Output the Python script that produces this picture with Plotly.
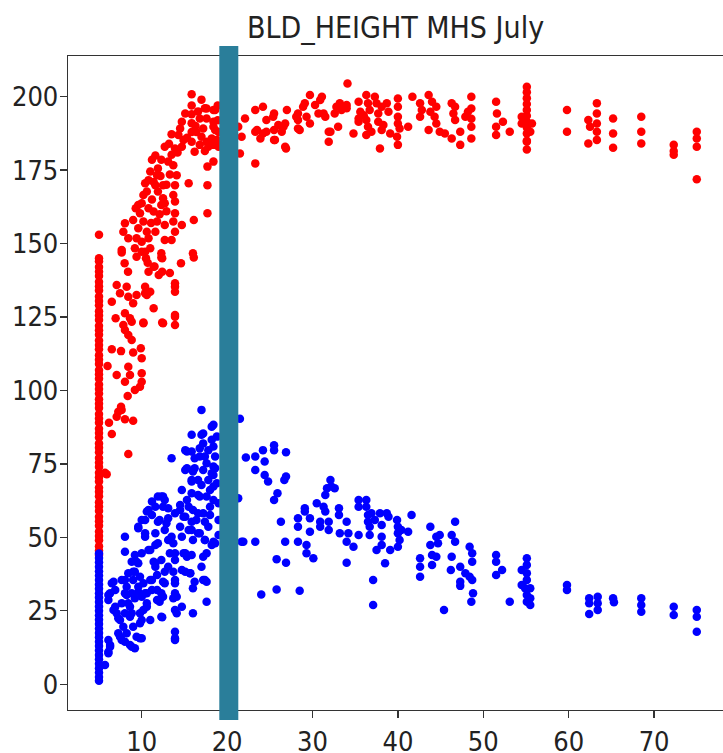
import plotly.graph_objects as go

TITLE = "BLD_HEIGHT MHS July"
x_ticks = [10, 20, 30, 40, 50, 60, 70]
y_ticks = [0, 25, 50, 75, 100, 125, 150, 175, 200]
threshold_x = 20.2

# dense column of red points at x = 5
red_col_x = 5
red_col_y = [153, 145, 144, 142, 140.5, 139, 137, 135.5, 134, 132, 130.5, 129, 127, 125.5, 124, 122, 120.5,
             119, 117, 115.5, 114, 112, 110.5, 109, 107, 105.5, 104, 102, 100.5, 99, 97, 95.5, 94, 92, 90.5,
             89, 87, 85.5, 84, 82, 80.5, 79, 77, 75.5, 74, 72, 70.5, 69, 67, 65.5, 64, 62, 60.5, 59, 57,
             55.5, 54, 52, 50.5, 49, 47, 45.5, 44]

# dense column of blue points at x = 5
blue_col_x = 5
blue_col_y = [44.5, 43, 41.5, 40, 38.5, 37, 35.5, 34, 32.5, 31, 29.5, 28, 26.5, 25, 23.5, 22, 20.5, 19,
              17.5, 16, 14.5, 13, 11.5, 10, 8.5, 7, 5.5, 4, 2.5, 1.2]

red_points = [
    (5.7, 72.0), (5.9, 71.5),
    (7.66, 147), (9.4, 145.5), (10.7, 143.5), (12.3, 145.3), (14.6, 143.3), (16.1, 145.3), (8.0, 143.3),
    (8.4, 140.4), (10.8, 140.4), (11.5, 142.2), (12.0, 139.3), (12.4, 140.4), (13.9, 136.5), (13.9, 133.6),
    (7.07, 135.9), (8.24, 135.3), (6.5, 130.2), (7.46, 133.1), (8.43, 131.9), (9.4, 132.5), (10.4, 135.3),
    (10.6, 132.5), (11.0, 133.6), (9.0, 129.7), (11.4, 128.0), (6.95, 124.6), (8.04, 126.3), (8.63, 124.6),
    (8.83, 123.4), (7.85, 122.3), (8.04, 120.6), (8.43, 118.9), (8.83, 117.2), (10.2, 122.9), (12.4, 123.1),
    (13.9, 125.7), (13.9, 122.3), (6.5, 114.0), (7.58, 113.4), (9.0, 112.9), (9.9, 114.4), (10.0, 111.0),
    (6.0, 108.3), (7.07, 105.3), (8.43, 108.1), (8.63, 105.3), (8.04, 103.0), (10.0, 105.9), (10.0, 103.0),
    (9.2, 100.2), (9.8, 101.3), (8.36, 98.1), (7.58, 94.5), (7.26, 92.8), (7.07, 91.1), (8.04, 90.2),
    (9.0, 89.7), (6.17, 89.0), (6.5, 85.2), (8.43, 78.4), (7.65, 93.4),
    (15.85, 200.8), (15.85, 197), (15.85, 194), (15.85, 191), (15.85, 188), (15.85, 184.7), (15.1, 194.3),
    (14.7, 191.5), (14.5, 189.2), (14.3, 187.0), (14.9, 185.3), (14.7, 183.0), (17.4, 196.1), (17.6, 192.6),
    (16.8, 192.6), (17.2, 189.2), (17.0, 186.4), (17.6, 184.7), (16.8, 183.6), (18.2, 185.8), (18.4, 195.5),
    (18.4, 191.5), (18.6, 188.7), (18.4, 183.6), (16.2, 181.3), (13.5, 187.2), (12.7, 183.0), (13.9, 182.4),
    (13.5, 180.2), (13.1, 177.9), (12.3, 178.5), (11.9, 175.6), (11.2, 178.5), (11.8, 173.3), (11.0, 174.5),
    (10.8, 171.6), (10.4, 170.5), (10.6, 167.7), (10.2, 166.5), (10.0, 163.7), (9.6, 163.1), (9.8, 160.3),
    (10.2, 157.5), (9.6, 155.2), (10.6, 154.0), (10.8, 151.8), (11.0, 148.4), (10.4, 147.2), (10.0, 150.6),
    (11.6, 169.9), (11.9, 167.7), (12.5, 165.4), (12.3, 163.1), (11.4, 160.9), (11.8, 157.5), (11.6, 154.0),
    (12.7, 163.7), (12.7, 156.3), (12.5, 169.9), (13.7, 176.7), (14.1, 173.3), (13.9, 169.9), (13.7, 166.5),
    (13.9, 164.3), (13.9, 160.3), (13.7, 157.5), (14.7, 156.3), (13.9, 154.0), (12.7, 151.2), (15.5, 170.5),
    (16.1, 158.0), (17.7, 176.2), (17.7, 169.9), (17.7, 160.3), (18.4, 177.9), (12.3, 146.7), (16.0, 146.7),
    (8.04, 156.9), (9.0, 158.0), (7.85, 154.0), (8.43, 151.8), (9.4, 151.8), (7.66, 147.8), (9.2, 148.4),
    (10.0, 147.2), (17.6, 196), (18.6, 195.5), (18.4, 189.8), (18.8, 185.3), (17.8, 183), (13.5, 151.2),
    (12.4, 145.0), (11.4, 142.1), (13.9, 135.3), (13.9, 125.1), (12.5, 122.9), (10.4, 133.1), (10.2, 123.1),
    (16.4, 188), (16.6, 195), (17.0, 199), (18.9, 192), (19.0, 188), (19.0, 183), (18.9, 197), (17.4, 181.5),
    (15.3, 186), (16.3, 190), (14.2, 181), (13.2, 184), (12.2, 173), (11.4, 171), (12.9, 170), (13.3, 173.5),
    (11.2, 165), (10.8, 162), (12.1, 160), (11.1, 157), (9.3, 162), (10.5, 145), (13.3, 140), (12.9, 161),
    (11.6, 180),
    (21.3, 189.8), (22.1, 192.6), (21.7, 186.4), (21.5, 180.7), (23.3, 177.3), (23.3, 195.5), (24.2, 196.6),
    (23.5, 188.7), (24.2, 187.5), (24.6, 192.1), (25.4, 193.2), (25.6, 185.3), (27.0, 195.5), (26.8, 183.0),
    (26.6, 189.8), (28.1, 193.2), (28.3, 189.2), (28.9, 196.6), (29.7, 200.6), (29.7, 190.9), (30.9, 198.9),
    (31.3, 194.3), (31.9, 188.1), (31.9, 184.7), (32.8, 196.6), (34.0, 196.1), (34.8, 187.5), (35.4, 198.3),
    (35.4, 192.6), (23.3, 188.1), (23.9, 185.8), (24.6, 188.1), (25.5, 194.3), (25.5, 188.7), (26.0, 190.4),
    (25.5, 185.3), (26.8, 190.9), (26.4, 188.1), (26.9, 182.4), (28.3, 194.3), (28.3, 192.1), (28.5, 188.7),
    (29.1, 197.8), (30.3, 197.2), (29.3, 193.2), (31.1, 200.0), (31.5, 193.2), (30.7, 194.3), (32.1, 188.1),
    (32.6, 194.3), (33.2, 197.8), (33.4, 195.5), (33.0, 189.8), (34.1, 204.5), (34.0, 197.2), (35.6, 194.9),
    (35.4, 191.5), (36.0, 193.7), (36.3, 200.6), (36.5, 197.8), (36.7, 195.5), (36.3, 192.1), (36.5, 189.8),
    (36.3, 187.0), (36.9, 188.1), (37.3, 200.0), (37.5, 197.8), (37.7, 194.3), (38.1, 196.6), (37.7, 191.5),
    (38.1, 188.7), (37.9, 182.4), (38.3, 190.4), (38.7, 197.8), (38.9, 194.9), (39.1, 187.5), (40.0, 199.4),
    (40.0, 196.6), (40.0, 193.2), (40.0, 190.9), (39.9, 186.4), (40.0, 183.6), (40.2, 189.2), (41.2, 189.8),
    (41.7, 200.0), (42.6, 197.8), (42.6, 193.2), (42.8, 195.5), (43.6, 200.6), (44.0, 198.3), (43.8, 194.9),
    (43.6, 188.7), (44.3, 193.2), (44.5, 196.6), (44.5, 190.9), (44.9, 188.1), (45.5, 187.5), (46.3, 197.8),
    (46.7, 196.6), (46.5, 194.3), (46.7, 192.1), (46.3, 185.8), (47.3, 188.1), (47.3, 183.6), (47.9, 193.2),
    (48.2, 194.9), (48.6, 200.0), (48.6, 189.8), (48.6, 185.8), (48.6, 196.0), (48.6, 192.5),
    (51.5, 198.3), (51.6, 194.3), (51.5, 189.8), (51.5, 187.0), (52.3, 191.5), (53.1, 188.1),
    (55.1, 203.4), (55.1, 201.5), (55.1, 199.5), (55.1, 197.5), (55.1, 195.5), (55.1, 193.5), (55.1, 191.5),
    (55.1, 189.5), (55.1, 187.5), (55.1, 185.0), (55.1, 182.0), (54.5, 193.2), (54.5, 190.9), (55.7, 190.9),
    (55.5, 188.1), (55.1, 184.7),
    (59.8, 195.5), (59.8, 188.1), (62.3, 192.1), (62.5, 189.8), (62.3, 184.1), (63.3, 197.8), (63.3, 194.3),
    (63.3, 190.9), (63.3, 188.1), (63.3, 185.3), (65.2, 192.6), (65.2, 187.5), (65.2, 182.6), (68.5, 193.2),
    (68.5, 188.1), (68.5, 184.1), (72.3, 183.6), (72.3, 181.5), (72.3, 180.2), (75.0, 188.1), (75.0, 185.8),
    (75.0, 183.0), (75.0, 171.9),
]

blue_points = [
    (5.7, 6.6), (6.1, 11.1), (6.3, 13.4), (6.1, 15.1), (6.1, 30.4), (6.5, 34.4), (6.9, 32.1), (6.7, 25.3),
    (7.07, 24.2), (7.46, 21.9), (7.26, 17.4), (7.66, 15.1), (8.24, 17.4), (8.04, 24.2), (8.43, 27.6),
    (8.04, 31.0), (8.04, 50.2), (8.04, 45.1), (7.66, 35.5), (8.43, 37.8), (8.24, 33.2), (8.83, 31.0),
    (9.0, 35.5), (8.83, 24.2), (9.0, 19.6), (9.4, 16.2), (8.83, 12.8), (9.2, 12.3), (10.0, 15.7), (9.8, 20.8),
    (9.8, 24.2), (10.0, 29.8), (9.6, 33.2), (9.4, 41.7), (9.2, 38.3), (9.6, 53.1), (10.4, 55.9), (10.8, 59.3),
    (11.2, 62.2), (10.4, 50.2), (10.8, 45.7), (11.4, 41.7), (11.2, 35.5), (10.6, 31.0), (10.6, 26.4),
    (11.0, 21.9), (11.6, 40.0), (11.8, 32.1), (11.8, 28.7), (11.9, 48.0), (12.1, 55.9), (12.5, 60.4),
    (12.5, 63.9), (12.9, 54.8), (13.1, 49.1), (13.3, 44.6), (13.1, 40.0), (12.7, 34.4), (12.5, 29.8),
    (12.4, 22.8), (13.5, 76.9), (13.9, 42.3), (13.9, 35.5), (13.9, 31.0), (14.1, 24.2), (13.9, 17.9),
    (13.9, 15.7), (14.7, 26.4), (14.7, 38.9), (14.9, 44.6), (14.5, 53.6), (14.5, 59.3), (14.7, 66.1),
    (15.1, 57.0), (15.3, 62.7), (15.1, 72.9), (15.3, 79.2), (15.85, 79.2), (16.2, 73.5), (15.85, 69.5),
    (15.85, 65.0), (16.0, 59.3), (16.4, 55.9), (15.85, 52.5), (16.0, 49.1), (15.3, 43.4), (15.7, 37.8),
    (16.0, 24.2), (16.0, 32.7), (16.8, 51.4), (17.2, 58.2), (16.8, 63.9), (16.6, 69.5), (16.8, 77.5),
    (17.0, 84.9), (17.2, 82.0), (17.4, 77.5), (17.6, 75.2), (17.0, 40.0), (17.2, 35.5), (17.6, 34.9),
    (17.6, 28.1), (17.6, 44.6), (17.4, 49.1), (17.8, 53.6), (18.0, 60.4), (18.0, 66.1), (18.4, 71.2),
    (18.2, 87.7), (18.4, 80.9), (18.6, 77.5), (18.6, 73.5), (18.8, 68.4), (19.0, 55.9), (19.0, 61.6),
    (19.0, 50.8), (18.6, 48.0), (18.8, 84.3), (17.0, 93.4), (15.85, 84.9), (11.9, 63.9), (16.2, 34.9),
    (13.7, 29.3), (13.9, 25.3),
    (6.7, 34.9), (6.3, 31.0), (6.1, 28.7), (6.9, 26.4), (7.26, 22.5), (7.66, 27.6), (8.24, 30.4), (8.04, 35.5),
    (9.0, 38.3), (8.83, 41.7), (9.2, 44.0), (9.6, 41.2), (10.0, 44.6), (9.8, 36.6), (10.2, 34.4), (9.6, 31.5),
    (9.2, 29.3), (8.63, 26.4), (8.63, 23.0), (7.85, 19.6), (7.46, 16.2), (8.04, 14.5), (8.63, 13.4),
    (9.8, 15.7), (10.0, 21.9), (10.2, 25.3), (10.6, 27.6), (10.4, 31.0), (11.2, 32.1), (11.0, 35.5),
    (11.8, 37.2), (11.6, 41.2), (12.3, 42.3), (12.7, 38.3), (12.5, 34.9), (12.3, 31.0), (12.1, 28.1),
    (12.3, 23.0), (11.0, 45.7), (11.6, 47.4), (13.7, 48.0), (13.9, 44.6), (13.7, 38.3), (13.9, 34.4),
    (14.1, 29.8), (15.1, 44.6), (15.85, 44.0), (15.1, 38.3), (15.65, 37.8), (17.4, 35.5), (13.9, 15.1),
    (17.2, 43.4), (18.2, 47.4), (6.1, 10.6), (6.3, 12.8),
    (18.4, 88.3), (17.2, 85.4), (18.2, 83.2), (15.1, 79.7), (16.8, 80.3), (17.8, 79.7), (16.2, 76.9),
    (18.4, 74.1), (15.3, 73.5), (16.0, 72.4), (17.2, 72.9), (18.2, 71.8), (15.85, 69.0), (17.0, 67.8),
    (17.8, 69.5), (18.4, 67.3), (16.6, 64.4), (17.6, 63.9), (18.4, 62.7), (12.3, 63.9), (12.7, 62.7),
    (11.6, 60.4), (10.6, 58.8), (10.0, 55.9), (9.6, 53.6), (11.2, 57.6), (11.9, 55.3), (13.1, 56.5),
    (13.1, 59.9), (13.9, 58.2), (14.5, 61.0), (14.9, 57.0), (15.5, 60.4), (15.85, 55.3), (16.6, 58.2),
    (17.4, 55.3), (18.0, 57.6), (10.4, 51.4), (11.6, 51.4), (12.7, 52.5), (13.5, 50.2), (14.7, 50.2),
    (15.5, 52.5), (16.6, 51.4), (17.4, 49.1), (18.4, 48.5),
    (21.5, 90.4), (21.3, 63.3), (21.7, 48.5), (21.9, 48.5), (22.2, 77.2),
    (23.3, 77.5), (23.3, 72.9), (24.2, 79.7), (24.4, 75.8), (24.4, 71.2), (24.8, 69.0), (23.3, 48.5),
    (24.0, 30.6), (25.5, 81.4), (25.5, 79.7), (25.9, 65.0), (25.5, 62.7), (26.9, 79.0), (26.9, 70.7),
    (26.7, 69.5), (26.3, 55.3), (26.8, 48.5), (26.9, 41.4), (25.8, 42.6), (25.8, 32.3), (28.3, 56.5),
    (28.3, 53.6), (28.3, 48.5), (29.1, 59.9), (29.1, 58.8), (29.3, 47.4), (29.3, 44.6), (29.7, 56.5),
    (29.7, 51.9), (30.1, 42.9), (28.5, 31.8), (30.5, 61.6), (30.9, 55.3), (30.9, 53.6), (31.3, 60.4),
    (31.5, 64.4), (31.7, 66.7), (32.1, 69.5), (32.2, 67.3), (32.6, 66.7), (31.5, 58.8), (31.9, 55.3),
    (31.9, 52.5), (33.1, 59.9), (33.1, 57.6), (33.2, 51.4), (34.0, 55.3), (34.2, 51.4), (34.0, 48.5),
    (34.8, 46.8), (34.0, 41.4), (35.4, 50.8), (35.4, 60.4), (35.4, 62.7), (36.3, 62.7), (36.3, 60.4),
    (36.5, 57.6), (36.5, 55.3), (36.7, 53.6), (36.7, 50.8), (36.9, 58.2), (37.3, 55.9), (37.1, 35.5),
    (37.1, 27.0), (37.5, 45.7), (37.9, 58.2), (38.1, 54.2), (38.1, 50.2), (38.1, 47.4), (38.7, 58.2),
    (38.9, 57.0), (39.1, 45.7), (38.5, 41.2), (39.9, 55.9), (40.0, 53.6), (40.0, 51.4), (40.2, 49.1),
    (40.0, 46.8), (40.4, 52.5), (41.2, 51.9), (41.6, 57.6), (42.6, 42.9), (42.6, 40.0), (42.6, 36.6),
    (43.8, 53.6), (43.8, 47.4), (44.0, 44.0), (44.0, 40.6), (44.5, 50.2), (44.5, 43.4), (44.7, 48.0),
    (44.9, 50.8), (45.4, 25.3), (46.7, 55.3), (46.3, 50.8), (46.7, 48.5), (46.3, 43.4), (46.2, 38.9),
    (47.3, 40.0), (47.3, 34.9), (47.3, 33.5), (47.9, 37.8), (48.4, 46.8), (48.7, 44.6), (48.7, 41.7),
    (48.4, 36.6), (48.7, 35.5), (48.8, 31.0), (48.6, 28.1),
    (51.5, 44.0), (51.5, 41.7), (51.5, 37.2), (52.2, 38.9), (53.1, 28.1), (55.1, 42.9), (55.1, 40.6),
    (54.5, 38.9), (55.1, 37.8), (55.1, 35.5), (54.5, 33.8), (54.9, 32.7), (55.5, 32.7), (55.1, 30.4),
    (55.5, 29.3), (55.1, 28.1), (55.5, 27.0), (59.8, 33.8), (59.8, 32.1), (62.4, 29.3), (62.4, 27.6),
    (62.4, 23.9), (63.4, 29.8), (63.4, 27.6), (63.4, 25.3), (65.2, 29.3), (65.3, 27.9), (68.5, 29.3),
    (68.5, 27.0), (68.5, 24.7), (72.3, 26.4), (72.3, 23.6), (75.0, 25.3), (75.0, 23.0), (75.0, 17.9),
]

FONT = "DejaVu Sans Condensed, Liberation Sans Narrow, DejaVu Sans, sans-serif"

red_x = [red_col_x] * len(red_col_y) + [p[0] for p in red_points]
red_y = list(red_col_y) + [p[1] for p in red_points]
blue_x = [blue_col_x] * len(blue_col_y) + [p[0] for p in blue_points]
blue_y = list(blue_col_y) + [p[1] for p in blue_points]

fig = go.Figure()
fig.add_trace(go.Scatter(x=red_x, y=red_y, mode="markers",
                         marker=dict(color="#ff0000", size=8.5, line=dict(width=0)),
                         showlegend=False, hoverinfo="skip"))
fig.add_trace(go.Scatter(x=blue_x, y=blue_y, mode="markers",
                         marker=dict(color="#0000ff", size=8.5, line=dict(width=0)),
                         showlegend=False, hoverinfo="skip"))

fig.add_shape(type="line", xref="x", yref="paper", x0=threshold_x, x1=threshold_x,
              y0=-0.0153, y1=1.0153, line=dict(color="#2a7e9a", width=19), layer="above")

fig.update_layout(
    width=723, height=753,
    margin=dict(l=68, r=0, t=56, b=43, autoexpand=False),
    paper_bgcolor="white", plot_bgcolor="white",
    font=dict(family=FONT, color="#222222"),
    title=dict(text=TITLE, x=0.5, xref="paper", xanchor="center",
               y=1 - 27 / 753, yref="container", yanchor="middle",
               font=dict(size=30, family=FONT, color="#222222"), automargin=False),
)
fig.update_xaxes(range=[1.37, 78.07], tickvals=x_ticks, ticktext=[str(v) for v in x_ticks],
                 automargin=False,
                 showgrid=False, zeroline=False, showline=True, linecolor="#333333", linewidth=1.3,
                 mirror=True, ticks="outside", ticklen=7, tickwidth=1.3, tickcolor="#333333",
                 tickfont=dict(size=27, family=FONT, color="#222222"), ticklabelstandoff=0)
fig.update_yaxes(range=[-8.75, 213.85], tickvals=y_ticks, ticktext=[str(v) for v in y_ticks],
                 automargin=False,
                 showgrid=False, zeroline=False, showline=True, linecolor="#333333", linewidth=1.3,
                 mirror=False, ticks="outside", ticklen=7, tickwidth=1.3, tickcolor="#333333",
                 tickfont=dict(size=27, family=FONT, color="#222222"), ticklabelstandoff=-4)

fig.write_html("out.html",
               config={"displayModeBar": False, "staticPlot": True},
               post_script="document.body.style.margin='0';document.body.style.overflow='hidden';")
